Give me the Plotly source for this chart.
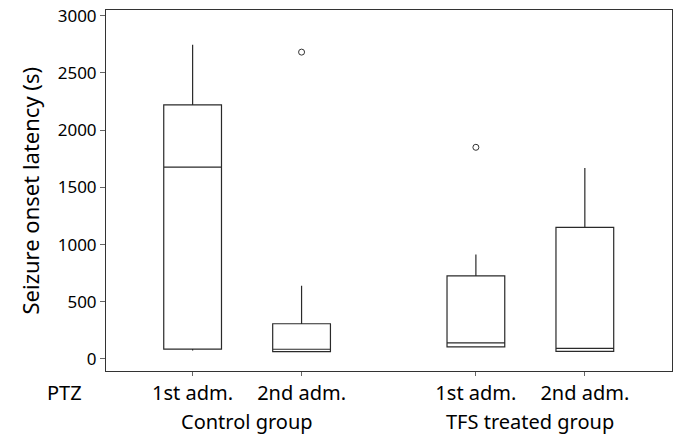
import plotly.graph_objects as go

# Data
positions = [1, 2, 3.6, 4.6]
tick_labels = ["1st adm.", "2nd adm.", "1st adm.", "2nd adm."]
groups = ["Control group", "TFS treated group"]
group_centers = [1.5, 4.1]
lower = [75, 58, 100, 62]
q1 = [87, 65, 105, 67]
median = [1676, 85, 140, 93]
q3 = [2220, 308, 727, 1150]
upper = [2747, 640, 914, 1670]
outlier_x = [2, 3.6]
outlier_y = [2682, 1850]

FONT = "Noto Sans"
fig = go.Figure()
fig.add_trace(go.Box(
    x=positions, q1=q1, median=median, q3=q3,
    lowerfence=lower, upperfence=upper,
    width=0.53, whiskerwidth=0,
    fillcolor="white", line=dict(color="#2a2a2a", width=1.2),
    boxpoints=False, showlegend=False, hoverinfo="skip",
))
fig.add_trace(go.Scatter(
    x=outlier_x, y=outlier_y, mode="markers",
    marker=dict(symbol="circle-open", size=6, color="#333333", line=dict(width=1)),
    showlegend=False, hoverinfo="skip",
))

for gx, g in zip(group_centers, groups):
    fig.add_annotation(x=gx, y=0, xref="x", yref="paper", yshift=-50, yanchor="middle",
                       text=g, showarrow=False, font=dict(family=FONT, size=20, color="black"))
fig.add_annotation(x=0, y=0, xref="paper", yref="paper", xshift=-42, yshift=-21,
                   xanchor="center", yanchor="middle",
                   text="PTZ", showarrow=False, font=dict(family=FONT, size=20, color="black"))
fig.add_annotation(x=0, y=0.5, xref="paper", yref="paper", xshift=-77,
                   xanchor="center", yanchor="middle", textangle=-90,
                   text="Seizure onset latency (s)", showarrow=False,
                   font=dict(family=FONT, size=22, color="black"))

fig.update_layout(
    width=679, height=437,
    margin=dict(l=106, r=7, t=10, b=66),
    plot_bgcolor="white", paper_bgcolor="white",
    font=dict(family=FONT, size=17, color="black"),
    xaxis=dict(range=[0.205, 5.4], tickvals=positions, ticktext=tick_labels,
               showgrid=False, zeroline=False, showline=True, mirror=True,
               linecolor="#333333", linewidth=1, ticks="outside", ticklen=4,
               tickcolor="#666666", tickfont=dict(size=20, family=FONT),
               automargin=False),
    yaxis=dict(range=[-105, 3050], tickvals=[0, 500, 1000, 1500, 2000, 2500, 3000],
               showgrid=False, zeroline=False, showline=True, mirror=True,
               linecolor="#333333", linewidth=1, ticks="outside", ticklen=5,
               tickcolor="#666666", tickfont=dict(size=17, family=FONT),
               automargin=False),
)

fig.write_html("out.html")
